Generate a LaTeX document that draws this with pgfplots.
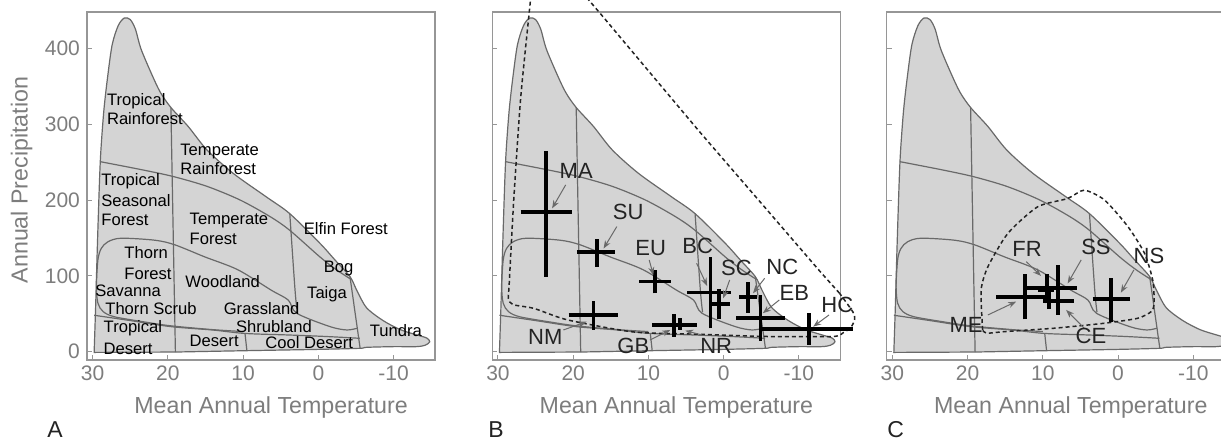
\documentclass[border=0pt]{standalone}
\usepackage{fontspec}
\setmainfont{Liberation Sans}
\usepackage{pgfplots}
\pgfplotsset{compat=1.18}
\usetikzlibrary{arrows.meta}

\definecolor{fillgray}{RGB}{212,212,212}
\definecolor{linegray}{RGB}{105,105,105}
\definecolor{framegray}{RGB}{150,150,150}
\definecolor{labgray}{RGB}{125,125,125}
\definecolor{dark}{RGB}{35,35,35}

\newcommand{\ticksize}{\fontsize{10.5}{12}\selectfont}
\newcommand{\labsize}{\fontsize{11.6}{13}\selectfont}
\newcommand{\bsize}{\fontsize{8.3}{9.5}\selectfont}
\newcommand{\csize}{\fontsize{11}{13}\selectfont}
\newcommand{\letsize}{\fontsize{11.5}{13}\selectfont}

\pgfplotsset{
  panel/.style={
    scale only axis, width=174pt, height=174pt,
    x dir=reverse, xmin=-15.5, xmax=30.75, ymin=-11, ymax=448,
    xtick={30,20,10,0,-10}, xticklabels={30,20,10,0,-10},
    ytick={0,100,200,300,400},
    tick pos=left, tick align=inside, major tick length=2.5pt,
    axis line style={draw=framegray, line width=0.6pt},
    every tick/.style={draw=framegray, line width=0.5pt},
    ticklabel style={font=\ticksize, text=labgray},
    xticklabel style={inner sep=2.5pt},
    xlabel={Mean Annual Temperature},
    xlabel style={at={(axis description cs:0.529,-0.155)}, anchor=base, font=\labsize, text=labgray},
    clip=false,
  },
  bline/.style={draw=linegray, line width=0.6pt, smooth, tension=0.5, no marks},
  cross/.style={black, line width=1.9pt, no marks},
  dash/.style={draw=dark, line width=0.75pt, dash pattern=on 2pt off 1.5pt, smooth, tension=0.4, no marks},
}
\tikzset{
  arr/.style={draw=linegray, line width=0.5pt, -{Stealth[length=4pt,width=3pt]}},
  bl/.style={font=\bsize, text=black, inner sep=0pt, anchor=base west},
  cl/.style={font=\csize, text=dark, inner sep=0pt, anchor=center},
}

% biome outline and internal borders
\newcommand{\biome}{%
  \addplot[fill=fillgray, draw=linegray, line width=0.6pt, smooth, tension=0.5] coordinates {
    (29.8,-1) (29.6,60) (29.4,130) (29.1,222) (28.9,266) (28.5,319) (28.0,363)
    (27.4,405) (26.6,430) (25.8,440) (25.0,438) (24.3,425) (23.6,400) (22.2,367)
    (21,342) (19.6,322) (17.3,297) (14.8,266) (11.3,235) (6.9,204) (3.8,182)
    (-0.2,143) (-2.2,121) (-4.2,99) (-5.1,81) (-6.4,58) (-8.6,41) (-10.9,29)
    (-13.1,22) (-14.4,18) (-14.8,13) (-14.2,8.5) (-13,6.6) (-10,6.6) (-6.4,5.7)
    (-5.5,4.4) (0,3) (9.5,1.3) (19,-0.5)
  } -- cycle;
  \addplot[bline] coordinates {(19.6,322) (19.3,160) (19.0,-0.5)};
  \addplot[bline] coordinates {(3.8,182) (3.1,81) (2.8,52)};
  \addplot[bline] coordinates {(-4.2,99) (-5.55,4.4)};
  \addplot[bline] coordinates {(9.75,24) (9.5,1.3)};
  \addplot[bline] coordinates {
    (29.0,250.6) (23.5,240) (19.3,231) (14.8,218) (10.4,200) (6.4,178)
    (3.8,160) (-0.2,125) (-2.4,108) (-4.4,95)};
  \addplot[bline] coordinates {
    (10,26.5) (14,29) (19.55,34) (23,39) (27.1,46) (28.6,52.8) (29.3,64)
    (29.5,86) (29.3,121) (28.86,136) (27.96,145) (26.2,149.6) (21.75,147)
    (19.1,141) (15.1,125) (10.7,108) (6.25,81) (4.0,68) (2.87,50.6)
    (-1.55,33) (-3.8,28.6) (-5.2,31)};
  \addplot[bline] coordinates {
    (29.8,48) (25,41) (19.6,33) (14,28.5) (9.75,24) (4,22) (-1,20) (-5.5,17.6)};
}

\begin{document}
\begin{tikzpicture}
\path[use as bounding box] (0,0) rectangle (610.5pt,221pt);
\clip (0,0) rectangle (610.5pt,221pt);

% ---------------- A
\begin{axis}[panel, at={(43.5pt,41pt)}, anchor=south west,
  yticklabels={0,100,200,300,400},
  ylabel={Annual Precipitation},
  ylabel style={at={(axis description cs:-0.188,0.517)}, anchor=center, font=\labsize, text=labgray}]
\biome
\node[bl] at (axis cs:28.14,324.5) {Tropical};
\node[bl] at (axis cs:28.14,299.5) {Rainforest};
\node[bl] at (axis cs:18.39,258.6) {Temperate};
\node[bl] at (axis cs:18.39,233.1) {Rainforest};
\node[bl] at (axis cs:28.89,219) {Tropical};
\node[bl] at (axis cs:28.89,191.7) {Seasonal};
\node[bl] at (axis cs:28.89,166.2) {Forest};
\node[bl] at (axis cs:17.15,167.5) {Temperate};
\node[bl] at (axis cs:17.15,140.7) {Forest};
\node[bl] at (axis cs:1.99,153.9) {Elfin Forest};
\node[bl] at (axis cs:25.83,122.3) {Thorn};
\node[bl] at (axis cs:25.83,95) {Forest};
\node[bl] at (axis cs:-0.67,104.7) {Bog};
\node[bl] at (axis cs:17.72,84.9) {Woodland};
\node[bl] at (axis cs:29.69,73) {Savanna};
\node[bl] at (axis cs:1.54,69.5) {Taiga};
\node[bl] at (axis cs:28.36,48.8) {Thorn Scrub};
\node[bl] at (axis cs:12.62,48.8) {Grassland};
\node[bl] at (axis cs:28.58,24.6) {Tropical};
\node[bl] at (axis cs:10.98,25.5) {Shrubland};
\node[bl] at (axis cs:-6.79,19.8) {Tundra};
\node[bl] at (axis cs:17.15,6.6) {Desert};
\node[bl] at (axis cs:28.58,-3.1) {Desert};
\node[bl] at (axis cs:7.08,3.5) {Cool Desert};
\end{axis}

% ---------------- B
\begin{axis}[panel, at={(246.15pt,41pt)}, anchor=south west, yticklabels={}]
\biome
\addplot[dash] coordinates {
  (25.5,480) (25.9,442) (27,332) (27.9,200) (28.5,90) (28.6,70) (28.0,62)
  (25.2,57) (20.8,42) (12.0,26) (3.2,23) (-5.7,20) (-14.5,20) (-15.9,25)
  (-16.9,32) (-17.4,42) (-17.2,52) (-15.4,77)};
\addplot[dash, tension=0.1] coordinates {
  (-15.4,77) (-12.7,107) (-5.5,190) (3.2,290) (12.0,394) (16.4,446) (19.5,482)};
% crosses: horizontal span, then vertical span
\addplot[cross] coordinates {(27.0,184) (20.15,184)

  (23.6,99) (23.6,264)};
\addplot[cross] coordinates {(19.5,131) (14.4,131)

  (16.83,112) (16.83,148)};
\addplot[cross] coordinates {(11.2,92.4) (7.0,92.4)

  (9.1,77) (9.1,107.8)};
\addplot[cross] coordinates {(4.83,77.9) (-1.0,77.9)

  (1.74,30.8) (1.74,125)};
\addplot[cross] coordinates {(1.5,62.5) (-0.8,62.5)

  (0.64,42.7) (0.64,82.3)};
\addplot[cross] coordinates {(-2.05,72.6) (-4.44,72.6)

  (-3.25,51.5) (-3.25,92.4)};
\addplot[cross] coordinates {(-1.7,44.9) (-8.1,44.9)

  (-4.9,14.5) (-4.9,74.8)};
\addplot[cross] coordinates {(-5.0,29.5) (-17.15,29.5)

  (-11.3,8.8) (-11.3,50.6)};
\addplot[cross] coordinates {(20.6,48.4) (14.1,48.4)

  (17.3,28.6) (17.3,66.9)};
\addplot[cross] coordinates {(9.55,35.5) (5.5,35.5)

  (6.56,19.8) (6.56,49.7)};
\addplot[cross] coordinates {(7.0,35.5) (3.6,35.5)

  (5.8,28.6) (5.8,44)};
\draw[arr] (axis cs:21.0,219.9) -- (axis cs:22.8,189);
\draw[arr] (axis cs:14.2,165) -- (axis cs:15.96,136);
\draw[arr] (axis cs:9.9,121) -- (axis cs:9.35,101);
\draw[arr] (axis cs:3.6,116.6) -- (axis cs:2.2,86.7);
\draw[arr] (axis cs:-0.8,94.6) -- (axis cs:0.07,70.4);
\draw[arr] (axis cs:-5.45,96.8) -- (axis cs:-3.9,77);
\draw[arr] (axis cs:-7.4,68.2) -- (axis cs:-5.2,50.7);
\draw[arr] (axis cs:-14,48.4) -- (axis cs:-11.9,33);
\draw[arr] (axis cs:21.3,28.6) -- (axis cs:18.2,39.6);
\draw[arr] (axis cs:9.8,15.4) -- (axis cs:7.1,28.6);
\draw[arr] (axis cs:2.9,22) -- (axis cs:5.1,27.7);
\node[cl] at (axis cs:19.6,238.8) {MA};
\node[cl] at (axis cs:12.7,184) {SU};
\node[cl] at (axis cs:9.7,136) {EU};
\node[cl] at (axis cs:3.46,140) {BC};
\node[cl] at (axis cs:-1.7,110.8) {SC};
\node[cl] at (axis cs:-7.8,112) {NC};
\node[cl] at (axis cs:-9.4,77) {EB};
\node[cl] at (axis cs:-15.1,61.6) {HC};
\node[cl] at (axis cs:23.7,19) {NM};
\node[cl] at (axis cs:12.0,8) {GB};
\node[cl] at (axis cs:1.0,8) {NR};
\end{axis}

% ---------------- C
\begin{axis}[panel, at={(443.35pt,41pt)}, anchor=south west, yticklabels={}]
\biome
\addplot[dash] coordinates {
  (18.0,28.6) (18.2,81.4) (17.3,112) (14.65,156) (10.7,191) (6.7,202)
  (4.5,213) (1.8,200) (-1.3,165) (-3.5,130) (-4.6,94.6) (-4.8,63.9)
  (-4.4,52.8) (-2.6,44) (1.8,37.5) (8.5,30.9) (15.1,26.4) (17.5,24.3) (18.0,28.6)};
\addplot[cross] coordinates {(16.2,72.6) (8.9,72.6)

  (12.36,42.7) (12.36,102.5)};
\addplot[cross] coordinates {(10.7,81.4) (8.5,81.4)

  (9.5,63.8) (9.5,102.5)};
\addplot[cross] coordinates {(12.2,83.6) (5.4,83.6)

  (8.0,48.4) (8.0,114)};
\addplot[cross] coordinates {(10.0,67) (5.8,67)

  (9.2,56) (9.2,80)};
\addplot[cross] coordinates {(3.4,69.1) (-1.6,69.1)

  (0.95,39.6) (0.95,96.8)};
\draw[arr] (axis cs:12.2,118.7) -- (axis cs:10.24,99.9);
\draw[arr] (axis cs:4.9,121) -- (axis cs:6.7,90);
\draw[arr] (axis cs:-2.1,107.8) -- (axis cs:-0.37,77.8);
\draw[arr] (axis cs:17.3,48.4) -- (axis cs:13.55,66);
\draw[arr] (axis cs:4.5,30.9) -- (axis cs:6.9,55);
\node[cl] at (axis cs:12.1,135) {FR};
\node[cl] at (axis cs:2.94,138.5) {SS};
\node[cl] at (axis cs:-4.1,126) {NS};
\node[cl] at (axis cs:20.2,35.2) {ME};
\node[cl] at (axis cs:3.6,20.7) {CE};
\end{axis}

\node[font=\letsize, text=dark, inner sep=0pt, anchor=base west] at (23.5pt,2pt) {A};
\node[font=\letsize, text=dark, inner sep=0pt, anchor=base west] at (244pt,2pt) {B};
\node[font=\letsize, text=dark, inner sep=0pt, anchor=base west] at (443.5pt,2pt) {C};
\end{tikzpicture}
\end{document}
